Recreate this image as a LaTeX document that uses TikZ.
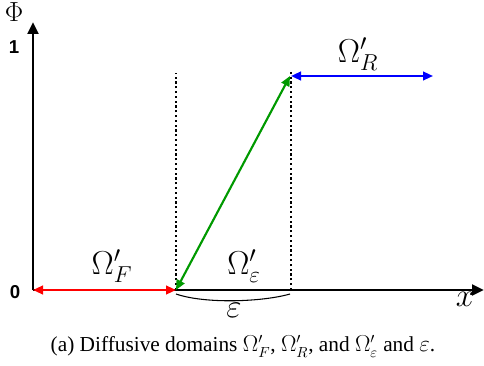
\documentclass[tikz,border=0pt]{standalone}
\usepackage{fontspec}
\setmainfont{Liberation Serif}
\newfontfamily\numfont{Liberation Sans}
\usetikzlibrary{arrows.meta}
\begin{document}
\begin{tikzpicture}[x=0.75pt,y=-0.75pt,
  axis/.style={line width=2.2pt,-{Triangle[length=9pt,width=8pt]}},
  dom/.style={line width=1.6pt,{Triangle[length=7.5pt,width=6.5pt]}-{Triangle[length=7.5pt,width=6.5pt]}},
  guide/.style={line width=1.6pt,dotted},
  biglbl/.style={font=\fontsize{25}{28}\selectfont},
  numlbl/.style={font=\numfont\bfseries\fontsize{14}{16}\selectfont}]
\useasboundingbox (0,0) rectangle (484,366);
\coordinate (O) at (33,290);
\coordinate (ytop) at (33,22);
\coordinate (xend) at (484,290);
\coordinate (A) at (176,290);
\coordinate (B) at (290,76);
\coordinate (Atop) at (176,73);
\coordinate (Bbot) at (291,290);
\coordinate (Btop) at (291,72);
\coordinate (R1) at (291,76);
\coordinate (R2) at (433,76);
\draw[guide] (A) -- (Atop);
\draw[guide] (Bbot) -- (Btop);
\draw[axis] (O) -- (ytop);
\draw[axis] (O) -- (xend);
\draw[dom,red] (O) -- (A);
\draw[dom,green!60!black] (A) -- (B);
\draw[dom,blue] (R1) -- (R2);
\draw[line width=0.8pt] (176,294) .. controls (205,304) and (262,302) .. (290,294);
\node (phi) at (14,12) {\fontsize{20}{22}\selectfont $\Phi$};
\node[numlbl] (one) at (14,47) {1};
\node[numlbl] (zero) at (15,292) {0};
\node[biglbl] (xl) at (465,299) {$x$};
\node[biglbl] (oF) at (112,266) {$\Omega'_F$};
\node[biglbl] (oE) at (244,266) {$\Omega'_\varepsilon$};
\node[biglbl] (oR) at (358,54) {$\Omega'_R$};
\node[biglbl] (eps) at (234,310) {$\varepsilon$};
\node[font=\fontsize{16}{18}\selectfont] (cap) at (243,346) {(a) Diffusive domains $\Omega'_F$, $\Omega'_R$, and $\Omega'_\varepsilon$ and $\varepsilon$.};
\end{tikzpicture}
\end{document}
